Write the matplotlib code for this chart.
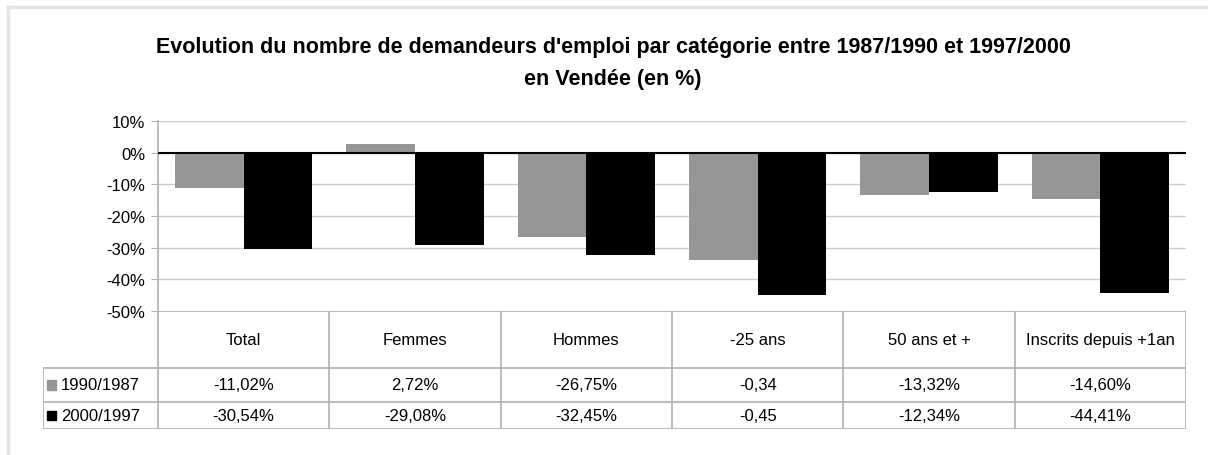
import matplotlib.pyplot as plt
from matplotlib.lines import Line2D
from matplotlib.patches import Rectangle

# donnees
categories = ['Total', 'Femmes', 'Hommes', '-25 ans', '50 ans et +', 'Inscrits depuis +1an']
series = ['1990/1987', '2000/1997']
evol_1990 = [-0.1102, 0.0272, -0.2675, -0.34, -0.1332, -0.1460]
evol_2000 = [-0.3054, -0.2908, -0.3245, -0.45, -0.1234, -0.4441]
labels_1990 = ['-11,02%', '2,72%', '-26,75%', '-0,34', '-13,32%', '-14,60%']
labels_2000 = ['-30,54%', '-29,08%', '-32,45%', '-0,45', '-12,34%', '-44,41%']
yticks = [0.1, 0, -0.1, -0.2, -0.3, -0.4, -0.5]

couleurs = ['#969696', '#000000']
W, H = 1208, 456
plt.rcParams['font.family'] = ['Liberation Sans', 'DejaVu Sans']

fig = plt.figure(figsize=(W / 100, H / 100), dpi=100)


def box(x0, y0, x1, y1):
    # pixels (origine en haut a gauche) -> fraction de figure
    return [x0 / W, 1 - y1 / H, (x1 - x0) / W, (y1 - y0) / H]


# cadre exterieur
fig.add_artist(Line2D([8 / W, 1], [1 - 8 / H] * 2, color='#e4e4e4', lw=2.5))
fig.add_artist(Line2D([8 / W] * 2, [0, 1 - 8 / H], color='#e4e4e4', lw=2.5))

# titre
fig.text(0.508, 1 - 48 / H, "Evolution du nombre de demandeurs d'emploi par catégorie entre 1987/1990 et 1997/2000",
         ha='center', va='center', fontsize=15.5, fontweight='bold')
fig.text(0.507, 1 - 80 / H, "en Vendée (en %)", ha='center', va='center', fontsize=15.5, fontweight='bold')

# graphique
ax = fig.add_axes(box(158, 122, 1186, 312))
x = range(len(categories))
w = 0.4
ax.bar([i - w / 2 for i in x], evol_1990, w, color=couleurs[0], zorder=3)
ax.bar([i + w / 2 for i in x], evol_2000, w, color=couleurs[1], zorder=3)
ax.set_xlim(-0.5, len(categories) - 0.5)
ax.set_ylim(-0.5, 0.1)
ax.set_yticks(yticks)
ax.set_yticklabels([f'{int(round(v * 100))}%' for v in yticks], fontsize=12)
ax.set_xticks([])
ax.yaxis.grid(True, color='#cccccc', lw=1, zorder=0)
ax.axhline(0, color='black', lw=1.5, zorder=4)
for s in ['top', 'right', 'bottom']:
    ax.spines[s].set_visible(False)
ax.spines['left'].set_color('#b0b0b0')
ax.spines['left'].set_linewidth(1.2)
ax.tick_params(axis='y', length=5, color='#b0b0b0', pad=4)

# tableau de donnees
leg_w = (158 - 43) / ((1186 - 158) / len(categories))
tb = fig.add_axes(box(43, 312, 1186, 430))
tb.set_xlim(-0.5 - leg_w, len(categories) - 0.5)
tb.set_ylim(3, 0)
tb.axis('off')
lc = '#b0b0b0'
tb.plot([-0.5, len(categories) - 0.5], [0, 0], color=lc, lw=1.2)
for yy in [1.45, 2.31, 3]:
    tb.plot([-0.5 - leg_w, len(categories) - 0.5], [yy, yy], color=lc, lw=1.2)
tb.plot([-0.5 - leg_w] * 2, [1.45, 3], color=lc, lw=1.2)
for i in range(len(categories) + 1):
    tb.plot([i - 0.5] * 2, [0, 3], color=lc, lw=1.2)
for i, c in enumerate(categories):
    tb.text(i, 0.72, c, ha='center', va='center', fontsize=12)
    tb.text(i, 1.88, labels_1990[i], ha='center', va='center', fontsize=12)
    tb.text(i, 2.66, labels_2000[i], ha='center', va='center', fontsize=12)
for j, (nom, yy) in enumerate(zip(series, [1.88, 2.66])):
    tb.add_patch(Rectangle((-0.5 - leg_w + 0.025, yy - 0.12), 0.053, 0.24, color=couleurs[j]))
    tb.text(-0.5 - leg_w + 0.105, yy, nom, ha='left', va='center', fontsize=12)

fig.savefig('out.png', dpi=100)
